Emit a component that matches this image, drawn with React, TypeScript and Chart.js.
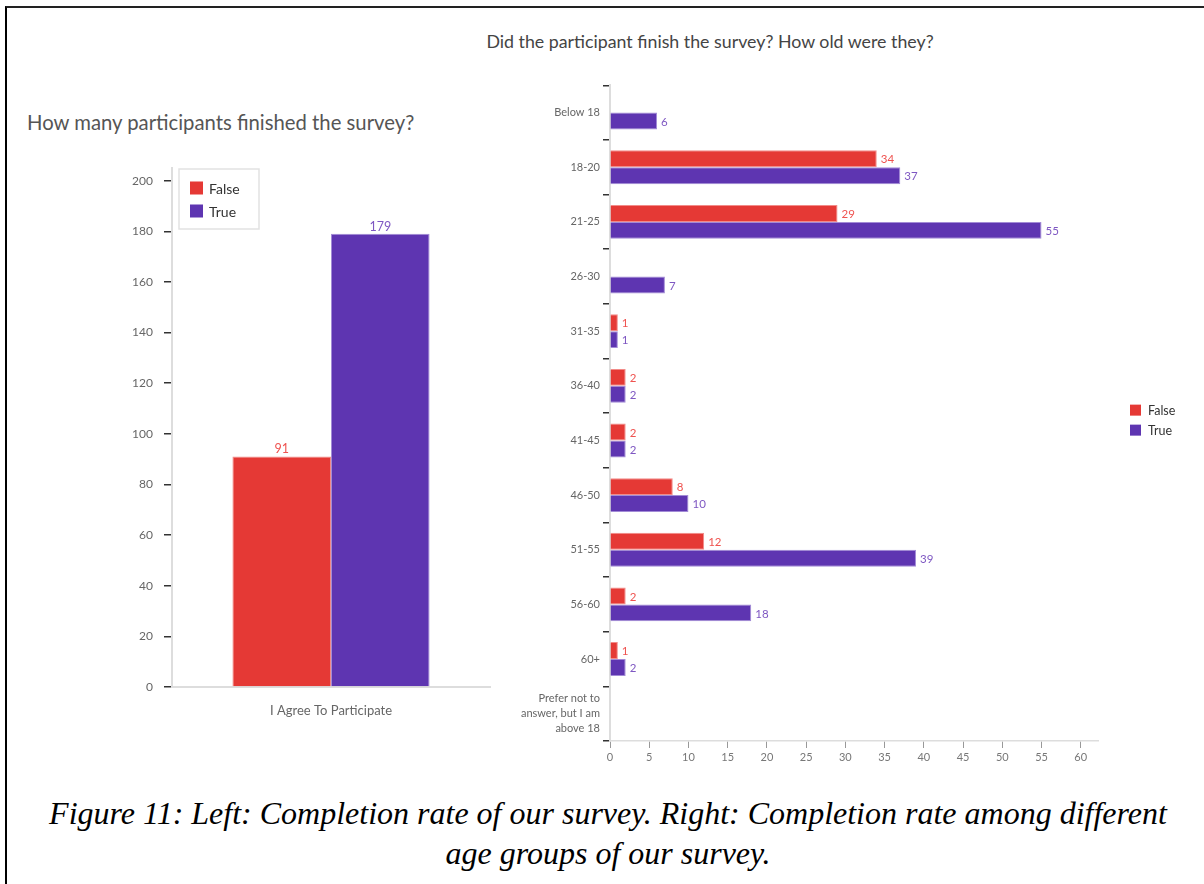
import React, { useEffect, useRef } from "react";
import { Chart, registerables } from "chart.js";

Chart.register(...registerables);

// ---------- data ----------
const seriesNames = ["False", "True"];

const overallCategories = ["I Agree To Participate"];
const overallFalse = [91];
const overallTrue = [179];
const overallTicks = [0, 20, 40, 60, 80, 100, 120, 140, 160, 180, 200];

const ageGroups: (string | string[])[] = [
  "Below 18",
  "18-20",
  "21-25",
  "26-30",
  "31-35",
  "36-40",
  "41-45",
  "46-50",
  "51-55",
  "56-60",
  "60+",
  ["Prefer not to", "answer, but I am", "above 18"],
];
const ageFalse: (number | null)[] = [null, 34, 29, null, 1, 2, 2, 8, 12, 2, 1, null];
const ageTrue: (number | null)[] = [6, 37, 55, 7, 1, 2, 2, 10, 39, 18, 2, null];
const ageTicks = [0, 5, 10, 15, 20, 25, 30, 35, 40, 45, 50, 55, 60];

// ---------- styles ----------
const RED = "#e53935";
const PURPLE = "#5e35b1";
const RED_TEXT = "#ef5350";
const PURPLE_TEXT = "#7e57c2";
const FONT = "Lato, 'Open Sans', sans-serif";

// value labels drawn at bar ends
const valueLabels = {
  id: "valueLabels",
  afterDatasetsDraw(chart: any, _args: any, opts: any) {
    const ctx = chart.ctx;
    const horizontal = chart.options.indexAxis === "y";
    ctx.save();
    ctx.font = `${opts.size || 12}px ${FONT}`;
    chart.data.datasets.forEach((ds: any, di: number) => {
      const meta = chart.getDatasetMeta(di);
      meta.data.forEach((el: any, i: number) => {
        const v = ds.data[i];
        if (v === null || v === undefined) return;
        ctx.fillStyle = opts.colors[di];
        if (horizontal) {
          ctx.textAlign = "left";
          ctx.textBaseline = "middle";
          ctx.fillText(String(v), el.x + 4, el.y + 1);
        } else {
          ctx.textAlign = "center";
          ctx.textBaseline = "bottom";
          ctx.fillText(String(v), el.x, el.y - 1);
        }
      });
    });
    ctx.restore();
  },
};

// legend drawn at a fixed place relative to the chart area
const boxLegend = {
  id: "boxLegend",
  afterDraw(chart: any, _args: any, opts: any) {
    const ctx = chart.ctx;
    const area = chart.chartArea;
    const ox = opts.fromRight ? area.right + opts.x : area.left + opts.x;
    const oy = opts.fromMiddle ? (area.top + area.bottom) / 2 + opts.y : area.top + opts.y;
    ctx.save();
    if (opts.border) {
      ctx.strokeStyle = "#e2e2e2";
      ctx.lineWidth = 1.5;
      ctx.strokeRect(ox, oy, opts.width, opts.height);
    }
    ctx.font = `${opts.size}px ${FONT}`;
    ctx.textAlign = "left";
    ctx.textBaseline = "middle";
    chart.data.datasets.forEach((ds: any, di: number) => {
      const cy = oy + opts.firstY + di * opts.gap;
      ctx.fillStyle = ds.backgroundColor;
      ctx.fillRect(ox + opts.boxX, cy - opts.box / 2, opts.box, opts.box);
      ctx.fillStyle = "#333";
      ctx.fillText(ds.label, ox + opts.boxX + opts.box + opts.textGap, cy + 1);
    });
    ctx.restore();
  },
};

function OverallChart() {
  const ref = useRef<HTMLCanvasElement | null>(null);
  useEffect(() => {
    if (!ref.current) return;
    const chart = new Chart(ref.current, {
      type: "bar",
      data: {
        labels: overallCategories,
        datasets: [
          {
            label: seriesNames[0],
            data: overallFalse,
            backgroundColor: RED,
            borderColor: "#f28b88",
            borderWidth: 1,
            categoryPercentage: 0.62,
            barPercentage: 1,
          },
          {
            label: seriesNames[1],
            data: overallTrue,
            backgroundColor: PURPLE,
            borderColor: "#a28bd6",
            borderWidth: 1,
            categoryPercentage: 0.62,
            barPercentage: 1,
          },
        ],
      },
      options: {
        animation: false,
        responsive: true,
        maintainAspectRatio: false,
        layout: { padding: { left: 0, right: 10, top: 78, bottom: 0 } },
        plugins: {
          legend: { display: false },
          tooltip: { enabled: false },
          valueLabels: { colors: [RED_TEXT, PURPLE_TEXT], size: 12.5 },
          boxLegend: {
            x: 7,
            y: 1,
            width: 80,
            height: 60,
            border: true,
            firstY: 19,
            gap: 23,
            boxX: 11,
            box: 13,
            textGap: 6,
            size: 14,
          },
        } as any,
        scales: {
          x: {
            grid: { display: false },
            border: { color: "#dddddd", width: 2 },
            ticks: { color: "#666", font: { family: FONT, size: 13 }, padding: 8 },
            afterFit: (s: any) => {
              s.height = 43;
            },
          },
          y: {
            min: 0,
            max: 205,
            grid: { drawOnChartArea: false, color: "#333", tickLength: 8, lineWidth: 1.5 },
            border: { color: "#dddddd", width: 2 },
            ticks: { color: "#666", font: { family: FONT, size: 12 }, padding: 11, stepSize: 20 },
            afterBuildTicks: (s: any) => {
              s.ticks = overallTicks.map((v) => ({ value: v }));
            },
            afterFit: (s: any) => {
              s.width = 172;
            },
          },
        },
      } as any,
      plugins: [valueLabels, boxLegend],
    });
    return () => chart.destroy();
  }, []);
  return (
    <div style={{ position: "absolute", left: 0, top: 90, width: 500, height: 640 }}>
      <canvas ref={ref} />
    </div>
  );
}

function AgeChart() {
  const ref = useRef<HTMLCanvasElement | null>(null);
  useEffect(() => {
    if (!ref.current) return;
    const chart = new Chart(ref.current, {
      type: "bar",
      data: {
        labels: ageGroups,
        datasets: [
          {
            label: seriesNames[0],
            data: ageFalse,
            backgroundColor: RED,
            borderColor: "#f28b88",
            borderWidth: 1,
            categoryPercentage: 0.62,
            barPercentage: 1,
          },
          {
            label: seriesNames[1],
            data: ageTrue,
            backgroundColor: PURPLE,
            borderColor: "#a28bd6",
            borderWidth: 1,
            categoryPercentage: 0.62,
            barPercentage: 1,
          },
        ],
      },
      options: {
        indexAxis: "y",
        animation: false,
        responsive: true,
        maintainAspectRatio: false,
        layout: { padding: { left: 0, right: 106, top: 20, bottom: 0 } },
        plugins: {
          legend: { display: false },
          tooltip: { enabled: false },
          valueLabels: { colors: [RED_TEXT, PURPLE_TEXT], size: 11.5 },
          boxLegend: {
            fromRight: true,
            fromMiddle: true,
            x: 27,
            y: -3,
            width: 0,
            height: 0,
            border: false,
            firstY: 0,
            gap: 20,
            boxX: 5,
            box: 11,
            textGap: 7,
            size: 12.5,
          },
        } as any,
        scales: {
          x: {
            min: 0,
            max: 62.2,
            grid: { drawOnChartArea: false, color: "#999", tickLength: 7 },
            border: { color: "#dddddd", width: 1.5 },
            ticks: { color: "#777", font: { family: FONT, size: 11 }, padding: 3, stepSize: 5 },
            afterBuildTicks: (s: any) => {
              s.ticks = ageTicks.map((v) => ({ value: v }));
            },
            afterFit: (s: any) => {
              s.height = 39;
            },
          },
          y: {
            grid: { drawOnChartArea: false, color: "#333", tickLength: 7, lineWidth: 1.5 },
            border: { color: "#dddddd", width: 2 },
            ticks: {
              color: "#666",
              font: { family: FONT, size: 11, lineHeight: 1.35 },
              padding: 3,
              autoSkip: false,
            },
            afterFit: (s: any) => {
              s.width = 120;
            },
          },
        },
      } as any,
      plugins: [valueLabels, boxLegend],
    });
    return () => chart.destroy();
  }, []);
  return (
    <div style={{ position: "absolute", left: 490, top: 60, width: 714, height: 720 }}>
      <canvas ref={ref} />
    </div>
  );
}

export default function App() {
  return (
    <div
      style={{
        position: "absolute",
        left: 0,
        top: 0,
        width: 1204,
        height: 884,
        overflow: "hidden",
        background: "#fff",
      }}
    >
      <div
        style={{
          position: "absolute",
          left: 5,
          top: 6,
          width: 1300,
          height: 1000,
          borderTop: "2px solid #222",
          borderLeft: "2px solid #000",
        }}
      />
      <div
        style={{
          position: "absolute",
          left: 27,
          top: 110,
          fontFamily: FONT,
          fontSize: 20.3,
          lineHeight: "24px",
          color: "#555",
          whiteSpace: "nowrap",
        }}
      >
        How many participants finished the survey?
      </div>
      <div
        style={{
          position: "absolute",
          left: 410,
          top: 30,
          width: 600,
          textAlign: "center",
          fontFamily: FONT,
          fontSize: 17.8,
          lineHeight: "22px",
          color: "#444",
          whiteSpace: "nowrap",
        }}
      >
        Did the participant finish the survey? How old were they?
      </div>
      <OverallChart />
      <AgeChart />
      <div
        style={{
          position: "absolute",
          left: 8,
          top: 793,
          width: 1200,
          textAlign: "center",
          fontFamily: "'Liberation Serif', 'Times New Roman', serif",
          fontStyle: "italic",
          fontSize: 32,
          lineHeight: "40px",
          color: "#000",
          whiteSpace: "nowrap",
        }}
      >
        Figure 11: Left: Completion rate of our survey. Right: Completion rate among different
        <br />
        age groups of our survey.
      </div>
    </div>
  );
}
